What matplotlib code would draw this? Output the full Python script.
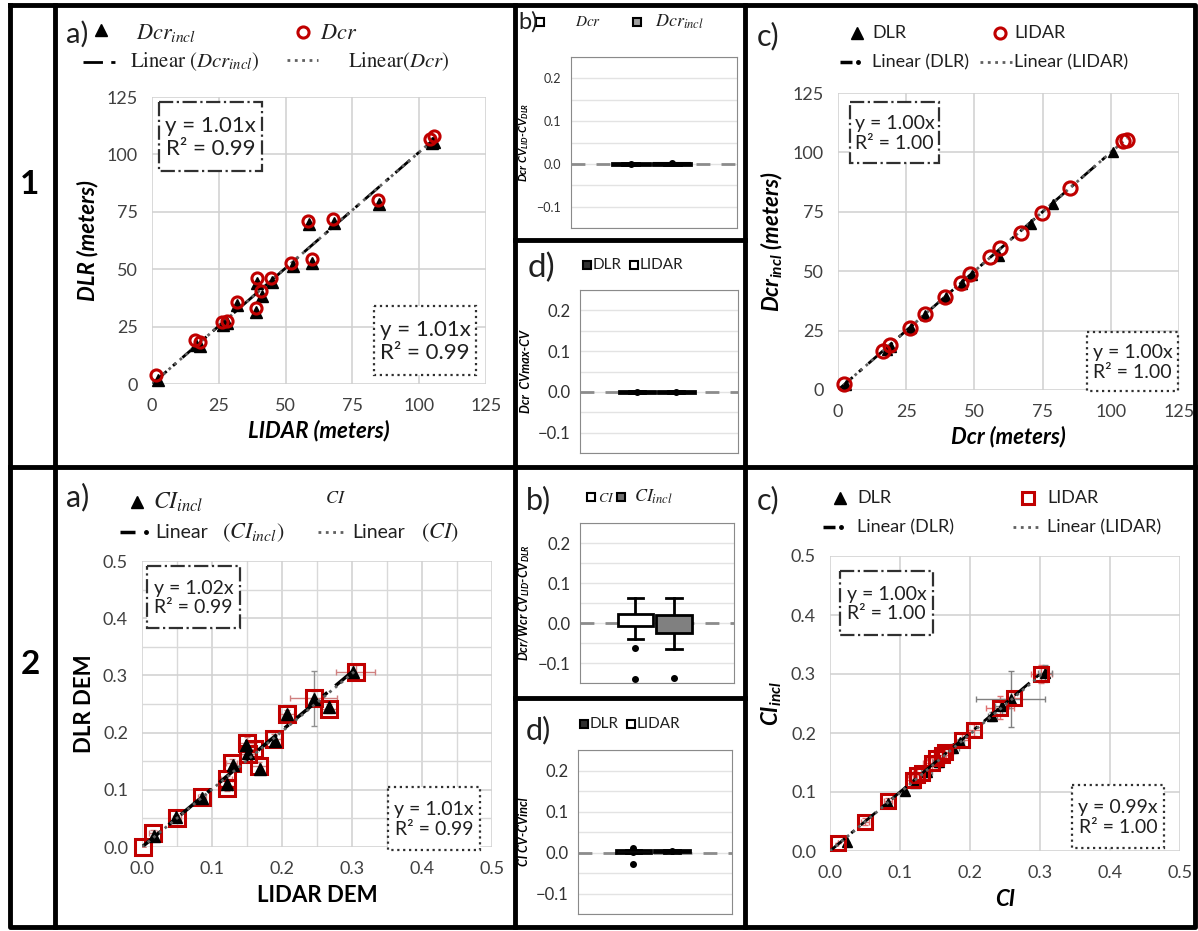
import matplotlib
matplotlib.use('Agg')
import matplotlib.pyplot as plt
from matplotlib.patches import Rectangle
import numpy as np

plt.rcParams['font.family'] = ['Lato', 'DejaVu Sans']
plt.rcParams['mathtext.fontset'] = 'stix'

W, H = 1198, 931
RED = '#c00000'

# ---------------- data ----------------
# row 1 a) crater diameter, LIDAR vs DLR
dcr_lidar = [1.4, 16.2, 18.1, 26.3, 28.1, 31.7, 38.8, 39.2, 40.7, 44.5, 52.0, 58.3, 59.8, 67.7, 84.7, 104.1, 105.4]
dcr_dlr = [3.9, 19.2, 18.5, 27.2, 27.6, 35.9, 33.0, 46.1, 40.3, 46.1, 52.6, 71.2, 54.4, 71.8, 80.2, 106.7, 108.1]
dcr_incl_lidar = [2.4, 16.5, 18.1, 26.5, 28.1, 31.7, 38.8, 39.2, 41.3, 44.9, 52.6, 58.7, 59.8, 68.3, 85.0, 104.8, 105.6]
dcr_incl_dlr = [1.7, 16.8, 16.6, 25.8, 26.5, 34.4, 31.5, 44.2, 38.4, 44.6, 51.2, 69.8, 52.6, 70.3, 78.5, 104.9, 105.2]
slopes_1a = [1.01, 1.01]  # Dcr_incl, Dcr
eq_1a = ['y = 1.01x\nR² = 0.99', 'y = 1.01x\nR² = 0.99']

# row 1 c) Dcr vs Dcr_incl
dcr_1c_lidar_x = [2.2, 16.5, 18.9, 26.3, 31.8, 39.1, 45.2, 48.3, 55.6, 59.3, 67.2, 74.8, 85.0, 104.5, 106.0]
dcr_1c_lidar_y = [2.5, 16.6, 19.0, 26.0, 32.0, 39.3, 44.9, 48.9, 55.8, 59.7, 66.0, 74.7, 85.0, 104.6, 105.3]
dcr_1c_dlr_x = [3.1, 17.8, 19.6, 26.9, 31.8, 39.5, 45.6, 49.3, 59.0, 70.9, 78.9, 100.9]
dcr_1c_dlr_y = [2.1, 16.9, 18.3, 26.0, 31.6, 39.3, 44.5, 48.5, 56.5, 69.8, 78.4, 100.0]
slopes_1c = [1.00, 1.00]  # DLR, LIDAR
eq_1c = ['y = 1.00x\nR² = 1.00', 'y = 1.00x\nR² = 1.00']

# row 2 a) CI, LIDAR DEM vs DLR DEM
ci_lidar_x = [0.002, 0.016, 0.050, 0.086, 0.121, 0.121, 0.128, 0.150, 0.152, 0.160, 0.167, 0.188, 0.207, 0.245, 0.267, 0.305]
ci_lidar_y = [0.000, 0.024, 0.051, 0.087, 0.104, 0.119, 0.146, 0.182, 0.163, 0.172, 0.141, 0.188, 0.232, 0.261, 0.242, 0.306]
ci_lidar_xerr = [0.0, 0.006, 0.006, 0.006, 0.008, 0.008, 0.008, 0.012, 0.010, 0.012, 0.012, 0.010, 0.010, 0.033, 0.012, 0.028]
ci_lidar_yerr = [0.0, 0.005, 0.005, 0.006, 0.006, 0.006, 0.008, 0.010, 0.008, 0.010, 0.008, 0.010, 0.008, 0.012, 0.008, 0.012]
ci_incl_x = [0.017, 0.049, 0.086, 0.121, 0.130, 0.148, 0.152, 0.168, 0.190, 0.207, 0.245, 0.267, 0.302]
ci_incl_y = [0.020, 0.052, 0.086, 0.110, 0.143, 0.179, 0.164, 0.137, 0.186, 0.232, 0.259, 0.245, 0.306]
ci_incl_yerr = [0.0, 0.0, 0.0, 0.0, 0.0, 0.0, 0.0, 0.0, 0.0, 0.0, 0.048, 0.0, 0.014]
slopes_2a = [1.02, 1.01]
eq_2a = ['y = 1.02x\nR² = 0.99', 'y = 1.01x\nR² = 0.99']

# row 2 c) CI vs CI_incl
ci_2c_lidar_x = [0.012, 0.050, 0.083, 0.118, 0.124, 0.131, 0.145, 0.152, 0.160, 0.164, 0.188, 0.205, 0.243, 0.263, 0.302]
ci_2c_lidar_y = [0.013, 0.050, 0.084, 0.120, 0.128, 0.132, 0.149, 0.157, 0.163, 0.168, 0.188, 0.205, 0.243, 0.260, 0.300]
ci_2c_lidar_err = [0.0, 0.006, 0.006, 0.010, 0.012, 0.012, 0.012, 0.014, 0.012, 0.012, 0.010, 0.010, 0.020, 0.010, 0.015]
ci_2c_dlr_x = [0.024, 0.083, 0.107, 0.121, 0.138, 0.155, 0.176, 0.186, 0.232, 0.245, 0.258, 0.307]
ci_2c_dlr_y = [0.016, 0.082, 0.101, 0.115, 0.134, 0.151, 0.174, 0.184, 0.228, 0.245, 0.258, 0.301]
ci_2c_dlr_xerr = [0.0, 0.0, 0.0, 0.006, 0.008, 0.008, 0.008, 0.006, 0.006, 0.010, 0.049, 0.010]
ci_2c_dlr_yerr = [0.0, 0.0, 0.0, 0.006, 0.008, 0.008, 0.008, 0.006, 0.008, 0.012, 0.047, 0.014]
slopes_2c = [1.00, 0.99]
eq_2c = ['y = 1.00x\nR² = 1.00', 'y = 0.99x\nR² = 1.00']

# box plots (CV differences)
box_1b = dict(q1=[-0.002, -0.002], med=[0.0, 0.001], q3=[0.002, 0.002],
              lo=[-0.003, -0.003], hi=[0.003, 0.003], mean=[0.0, 0.001], fliers=[[], []])
box_1d = dict(q1=[-0.002, -0.002], med=[0.0, 0.0], q3=[0.002, 0.002],
              lo=[-0.003, -0.003], hi=[0.003, 0.003], mean=[0.0, -0.001], fliers=[[], []])
box_2b = dict(q1=[-0.008, -0.024], med=[0.008, 0.002], q3=[0.023, 0.021],
              lo=[-0.040, -0.066], hi=[0.063, 0.063], mean=[0.005, -0.012], fliers=[[-0.063, -0.139], [-0.137]])
box_2d = dict(q1=[0.0, 0.001], med=[0.003, 0.003], q3=[0.005, 0.005],
              lo=[-0.001, 0.0], hi=[0.006, 0.006], mean=[0.002, 0.003], fliers=[[0.012, -0.027], []])


def px_rect(l, t, r, b):
    return [l / W, 1 - b / H, (r - l) / W, (b - t) / H]


fig = plt.figure(figsize=(W / 100, H / 100), dpi=100)

DASHDOT = (0, (7, 3, 1.5, 3))


def scatter_style(ax, lim, step, minor=None, size=13):
    ticks = np.arange(0, lim + step / 2, step)
    ax.set_xlim(0, lim)
    ax.set_ylim(0, lim)
    ax.set_xticks(ticks)
    ax.set_yticks(ticks)
    if minor:
        mt = np.arange(0, lim + minor / 2, minor)
        ax.set_xticks(mt, minor=True)
        ax.set_yticks(mt, minor=True)
        ax.grid(True, which='minor', color='#d9d9d9', lw=1)
        ax.tick_params(which='minor', length=0)
    ax.grid(True, which='major', color='#d0d0d0', lw=1.1)
    for s in ax.spines.values():
        s.set_visible(False)
    ax.tick_params(length=0, labelsize=size, labelcolor='#404040', pad=10)
    ax.set_axisbelow(True)


def fit_line(ax, xs, slope, **kw):
    xx = np.array([0, max(xs)])
    ax.plot(xx, slope * xx, **kw)


LAB = dict(fontsize=16, fontweight='bold')

# ---- 1a
ax = fig.add_axes(px_rect(152, 97, 486, 384))
scatter_style(ax, 125, 25)
ax.plot(dcr_incl_lidar, dcr_incl_dlr, '^', color='black', ms=8.5, clip_on=False, zorder=3)
ax.plot(dcr_lidar, dcr_dlr, 'o', mfc='none', mec=RED, mew=2.2, ms=8, clip_on=False, zorder=4)
fit_line(ax, dcr_incl_lidar, slopes_1a[0], color='black', lw=2, ls=DASHDOT, zorder=2)
fit_line(ax, dcr_lidar, slopes_1a[1], color='#606060', lw=2, ls=':', zorder=2)
ax.set_ylabel('DLR (meters)', style='italic', labelpad=6, **LAB)
ax.set_xlabel('LIDAR (meters)', style='italic', labelpad=4, **LAB)

# ---- 1c
ax = fig.add_axes(px_rect(838, 93, 1179, 390))
scatter_style(ax, 125, 25)
ax.plot(dcr_1c_dlr_x, dcr_1c_dlr_y, '^', color='black', ms=7, clip_on=False, zorder=3)
ax.plot(dcr_1c_lidar_x, dcr_1c_lidar_y, 'o', mfc='none', mec=RED, mew=2.2, ms=9.5, clip_on=False, zorder=4)
fit_line(ax, dcr_1c_dlr_x, slopes_1c[0], color='black', lw=2, ls=DASHDOT, zorder=2)
fit_line(ax, dcr_1c_lidar_x, slopes_1c[1], color='#606060', lw=2, ls=':', zorder=2)
ax.set_ylabel(r'Dcr$_\mathregular{incl}$ (meters)', style='italic', labelpad=6, **LAB)
ax.set_xlabel('Dcr (meters)', style='italic', labelpad=4, **LAB)

# ---- 2a
ax = fig.add_axes(px_rect(142, 561, 492, 847))
scatter_style(ax, 0.5, 0.1, minor=0.05)
ax.errorbar(ci_lidar_x, ci_lidar_y, xerr=ci_lidar_xerr, yerr=ci_lidar_yerr, fmt='none',
            ecolor='#d08080', elinewidth=1, capsize=2, zorder=2)
ax.errorbar(ci_incl_x, ci_incl_y, yerr=ci_incl_yerr, fmt='none', ecolor='#909090',
            elinewidth=1, capsize=2, zorder=2)
ax.plot(ci_lidar_x, ci_lidar_y, 's', mfc='none', mec=RED, mew=2.2, ms=11, clip_on=False, zorder=3)
ax.plot(ci_incl_x, ci_incl_y, '^', color='black', ms=8, clip_on=False, zorder=4)
fit_line(ax, ci_incl_x, slopes_2a[0], color='black', lw=2.5, ls=DASHDOT, zorder=5)
fit_line(ax, ci_lidar_x, slopes_2a[1], color='#606060', lw=2, ls=':', zorder=5)
ax.set_ylabel('DLR DEM', labelpad=6, **LAB)
ax.set_xlabel('LIDAR DEM', labelpad=6, **LAB)

# ---- 2c
ax = fig.add_axes(px_rect(830, 556, 1180, 851))
scatter_style(ax, 0.5, 0.1)
ax.errorbar(ci_2c_lidar_x, ci_2c_lidar_y, xerr=ci_2c_lidar_err, yerr=ci_2c_lidar_err, fmt='none',
            ecolor='#e07070', elinewidth=1, capsize=2, zorder=2)
ax.errorbar(ci_2c_dlr_x, ci_2c_dlr_y, xerr=ci_2c_dlr_xerr, yerr=ci_2c_dlr_yerr, fmt='none',
            ecolor='#808080', elinewidth=1, capsize=2, zorder=2)
ax.plot(ci_2c_dlr_x, ci_2c_dlr_y, '^', color='black', ms=7, clip_on=False, zorder=3)
ax.plot(ci_2c_lidar_x, ci_2c_lidar_y, 's', mfc='none', mec=RED, mew=2.2, ms=10, clip_on=False, zorder=4)
fit_line(ax, ci_2c_dlr_x, slopes_2c[0], color='black', lw=2, ls=DASHDOT, zorder=5)
fit_line(ax, ci_2c_lidar_x, slopes_2c[1], color='#606060', lw=2, ls=':', zorder=5)
ax.set_ylabel(r'CI$_\mathregular{incl}$', style='italic', labelpad=6, **LAB)
ax.set_xlabel('CI', style='italic', labelpad=6, **LAB)


# ---- box panels
def box_panel(rect, d, faces, ylabel, tsize, lsize):
    ax = fig.add_axes(px_rect(*rect))
    stats = []
    for i in range(2):
        stats.append(dict(q1=d['q1'][i], med=d['med'][i], q3=d['q3'][i], whislo=d['lo'][i],
                          whishi=d['hi'][i], mean=d['mean'][i], fliers=d['fliers'][i]))
    bp = ax.bxp(stats, positions=[0.36, 0.61], widths=0.23, patch_artist=True, showmeans=True,
                boxprops=dict(edgecolor='black', lw=2),
                whiskerprops=dict(color='black', lw=2), capprops=dict(color='black', lw=2),
                medianprops=dict(color='black', lw=1.5),
                meanprops=dict(marker='o', mfc='black', mec='black', ms=4),
                flierprops=dict(marker='o', mfc='black', mec='black', ms=4),
                capwidths=0.1)
    for patch, fc in zip(bp['boxes'], faces):
        patch.set_facecolor(fc)
        patch.set_zorder(3)
    ax.set_xlim(0, 1)
    ax.set_ylim(-0.15, 0.25)
    ax.set_xticks([])
    ax.set_yticks([-0.1, 0.0, 0.1, 0.2])
    ax.set_yticks(np.arange(-0.15, 0.26, 0.05), minor=True)
    ax.grid(True, axis='y', which='both', color='#e3e3e3', lw=1)
    ax.tick_params(axis='y', which='both', length=0, labelsize=tsize, labelcolor='#303030', pad=7)
    for s in ax.spines.values():
        s.set_color('#8a8a8a')
    ax.set_axisbelow(True)
    ax.axhline(0, color='#8c8c8c', lw=2, ls=(0, (5, 4)), zorder=1)
    ax.set_ylabel(ylabel, fontsize=lsize, fontweight='bold', style='italic', labelpad=4)
    return ax


box_panel((571, 57, 737, 228), box_1b, ['white', '#a0a0a0'],
          r'Dcr CV$_\mathregular{LID}$-CV$_\mathregular{DLR}$', 9, 8)
box_panel((580, 290, 738, 453), box_1d, ['#505050', 'white'], 'Dcr  CVmax-CV', 12, 9)
box_panel((580, 523, 734, 683), box_2b, ['white', '#808080'],
          r'Dcr/Wcr CV$_\mathregular{LID}$-CV$_\mathregular{DLR}$', 12, 9)
box_panel((578, 750, 732, 914), box_2d, ['#505050', 'white'], 'CI CV-CVincl', 12, 9)

# ---- overlay: frames, panel letters, legends, equation boxes
ov = fig.add_axes([0, 0, 1, 1])
ov.set_xlim(0, W)
ov.set_ylim(H, 0)
ov.axis('off')
ov.patch.set_alpha(0)

frame = dict(color='black', lw=3.5, solid_capstyle='projecting')
ov.plot([10, 1195, 1195, 10, 10], [5, 5, 927, 927, 5], **frame)
ov.plot([55, 55], [5, 927], **frame)
ov.plot([10, 1195], [467, 467], **frame)
ov.plot([515, 515], [5, 927], **frame)
ov.plot([745, 745], [5, 927], **frame)
ov.plot([515, 745], [240, 240], **frame)
ov.plot([515, 745], [698, 698], **frame)

ov.text(30, 185, '1', fontsize=24, fontweight='bold', ha='center', va='center')
ov.text(30, 665, '2', fontsize=24, fontweight='bold', ha='center', va='center')


def txt(x, y, s, fs, **kw):
    ov.text(x, y, s, fontsize=fs, ha='left', va='center', color='#202020', **kw)


def mk(x, y, **kw):
    ov.plot([x], [y], ls='none', clip_on=False, **kw)


def seg(x0, x1, y, **kw):
    ov.plot([x0, x1], [y, y], clip_on=False, **kw)


def dash_dot(x0, y, dash=12, gap=6, lw=2.5):
    seg(x0, x0 + dash, y, color='black', lw=lw, solid_capstyle='butt')
    mk(x0 + dash + gap, y, marker='o', color='black', ms=2.5)


tri = dict(marker='^', color='black', ms=8)
circ = dict(marker='o', mfc='none', mec=RED, mew=2.2, ms=8)
sq = dict(marker='s', mfc='none', mec=RED, mew=2.2, ms=9)

# 1a legend
txt(66, 34, 'a)', 21)
mk(101, 30, **tri)
txt(136, 33, r'$Dcr_{incl}$', 16)
mk(303, 32, **circ)
txt(320, 33, r'$Dcr$', 16)
seg(83, 117, 62, color='black', lw=2, ls=DASHDOT)
txt(130, 62, r'$\mathrm{Linear}\ (Dcr_{incl})$', 15)
seg(287, 318, 60, color='#606060', lw=2, ls=':')
txt(348, 62, r'$\mathrm{Linear}(Dcr)$', 15)

# 1c legend
txt(757, 36, 'c)', 22)
mk(857, 33, **tri)
txt(872, 33, 'DLR', 13)
mk(1000, 33, **circ)
txt(1014, 33, 'LIDAR', 13)
dash_dot(840, 62)
txt(872, 62, 'Linear (DLR)', 13)
seg(980, 1012, 62, color='#606060', lw=2, ls=':')
txt(1014, 62, 'Linear (LIDAR)', 13)

# 2a legend
txt(66, 497, 'a)', 22)
mk(137, 502, **tri)
txt(153, 502, r'$CI_{incl}$', 17)
txt(325, 498, r'$CI$', 13)
dash_dot(120, 532, dash=15, gap=11)
txt(155, 532, 'Linear', 14)
txt(222, 533, r'$(CI_{incl})$', 16)
seg(318, 347, 532, color='#606060', lw=2, ls=':')
txt(352, 532, 'Linear', 14)
txt(421, 533, r'$(CI)$', 16)

# 2c legend
txt(757, 500, 'c)', 22)
mk(840, 498, **tri)
txt(857, 498, 'DLR', 13)
mk(1028, 498, **sq)
txt(1047, 498, 'LIDAR', 13)
dash_dot(823, 527)
txt(857, 527, 'Linear (DLR)', 13)
seg(1013, 1042, 527, color='#606060', lw=2, ls=':')
txt(1047, 527, 'Linear (LIDAR)', 13)

# box panel legends
bsq = dict(marker='s', mec='black', mew=1.5, ms=6)
txt(518, 22, 'b)', 17)
mk(540, 22, mfc='white', **bsq)
txt(575, 22, r'$Dcr$', 11)
mk(637, 22, mfc='#a0a0a0', **bsq)
txt(655, 22, r'$Dcr_{incl}$', 13)

txt(528, 268, 'd)', 24)
mk(587, 265, mfc='#303030', **bsq)
txt(593, 265, 'DLR', 11)
mk(634, 265, mfc='white', **bsq)
txt(640, 265, 'LIDAR', 11)

txt(526, 500, 'b)', 22)
mk(591, 497, mfc='white', **bsq)
txt(598, 497, r'$CI$', 10)
mk(621, 497, mfc='#707070', **bsq)
txt(634, 497, r'$CI_{incl}$', 13)

txt(526, 730, 'd)', 22)
mk(584, 724, mfc='#303030', **bsq)
txt(590, 724, 'DLR', 11)
mk(631, 724, mfc='white', **bsq)
txt(637, 724, 'LIDAR', 11)


# equation boxes
def eq_box(l, t, r, b, s, ls, fs):
    ov.add_patch(Rectangle((l, t), r - l, b - t, fill=True, fc='white', ec='#303030', lw=1.6, ls=ls))
    ov.text((l + r) / 2, (t + b) / 2 + 1, s, fontsize=fs, ha='center', va='center',
            color='#202020', linespacing=1.15)


eq_box(159, 102, 262, 171, eq_1a[0], '-.', 16)
eq_box(374, 306, 476, 375, eq_1a[1], ':', 16)
eq_box(850, 102, 939, 163, eq_1c[0], '-.', 14)
eq_box(1087, 332, 1178, 391, eq_1c[1], ':', 14)
eq_box(147, 566, 240, 628, eq_2a[0], '-.', 14)
eq_box(388, 787, 480, 850, eq_2a[1], ':', 14)
eq_box(840, 571, 933, 635, eq_2c[0], '-.', 14)
eq_box(1072, 785, 1164, 848, eq_2c[1], ':', 14)

fig.savefig('out.png', dpi=100)
